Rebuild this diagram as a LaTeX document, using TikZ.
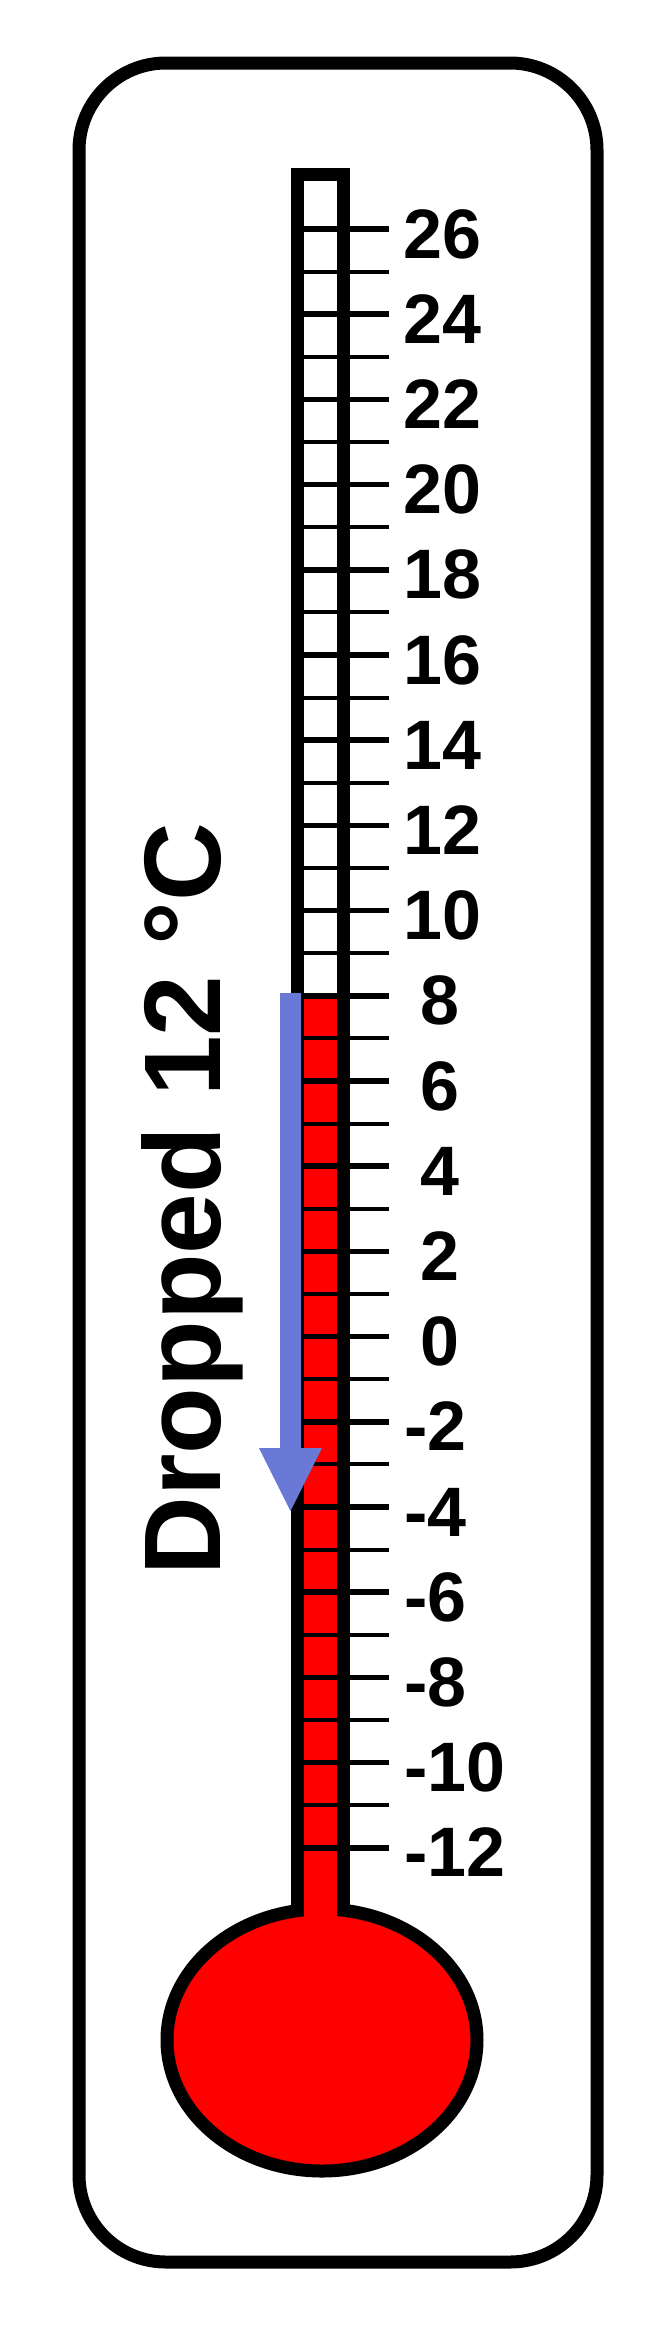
\documentclass[tikz,border=0pt]{standalone}
\usepackage{fontspec}
\setmainfont{Liberation Sans}
\definecolor{arrowblue}{RGB}{106,120,214}
\definecolor{mercury}{RGB}{255,0,0}
\begin{document}
\begin{tikzpicture}[x=1pt,y=-1pt,
  frame/.style={line width=13pt, draw=black},
  minortick/.style={line width=4pt, draw=black},
  majortick/.style={line width=5.5pt, draw=black},
  numlabel/.style={font=\fontsize{70}{80}\selectfont\bfseries, inner sep=0pt},
]
\useasboundingbox (0,0) rectangle (646,2326);
% outer card
\draw[frame, rounded corners=87pt] (79,63) rectangle (597,2262);
% bulb
\draw[line width=13pt, fill=mercury] (322,2040) ellipse [x radius=155, y radius=131];
% tube walls
\fill[black] (291,168) rectangle (304,1910);
\fill[black] (337,168) rectangle (350,1910);
\fill[black] (291,168) rectangle (350,181);
% tube interior
\fill[white] (304,181) rectangle (337,997);
\fill[mercury] (304,997) rectangle (337,1922);
% ticks
\foreach \n in {-12,-10,...,26}{
  \pgfmathsetmacro\yy{229+(26-\n)*42.6}
  \draw[majortick] (304,\yy) -- (389,\yy);
}
\foreach \n in {-11,-9,...,25}{
  \pgfmathsetmacro\yy{229+(26-\n)*42.6}
  \draw[minortick] (304,\yy) -- (389,\yy);
}
% labels
\foreach \n in {26,24,...,10}{
  \pgfmathsetmacro\yy{229+(26-\n)*42.6+29}
  \node[numlabel, anchor=base west] (t\n) at (403,\yy) {\n};
}
\foreach \n in {8,6,4,2,0}{
  \pgfmathsetmacro\yy{229+(26-\n)*42.6+29}
  \node[numlabel, anchor=base] (t\n) at (440,\yy) {\n};
}
\foreach \n in {-2,-4,...,-12}{
  \pgfmathsetmacro\yy{229+(26-\n)*42.6+29}
  \node[numlabel, anchor=base west] (t\n) at (404,\yy) {\n};
}
% arrow
\fill[arrowblue] (280,993) -- (301,993) -- (301,1448) -- (322,1448) -- (290.5,1511) -- (259,1448) -- (280,1448) -- cycle;
% caption
\node[rotate=90, anchor=base, font=\fontsize{109}{120}\selectfont\bfseries, inner sep=0pt] (drop) at (220,1199) {Dropped 12 °C};
\end{tikzpicture}
\end{document}
